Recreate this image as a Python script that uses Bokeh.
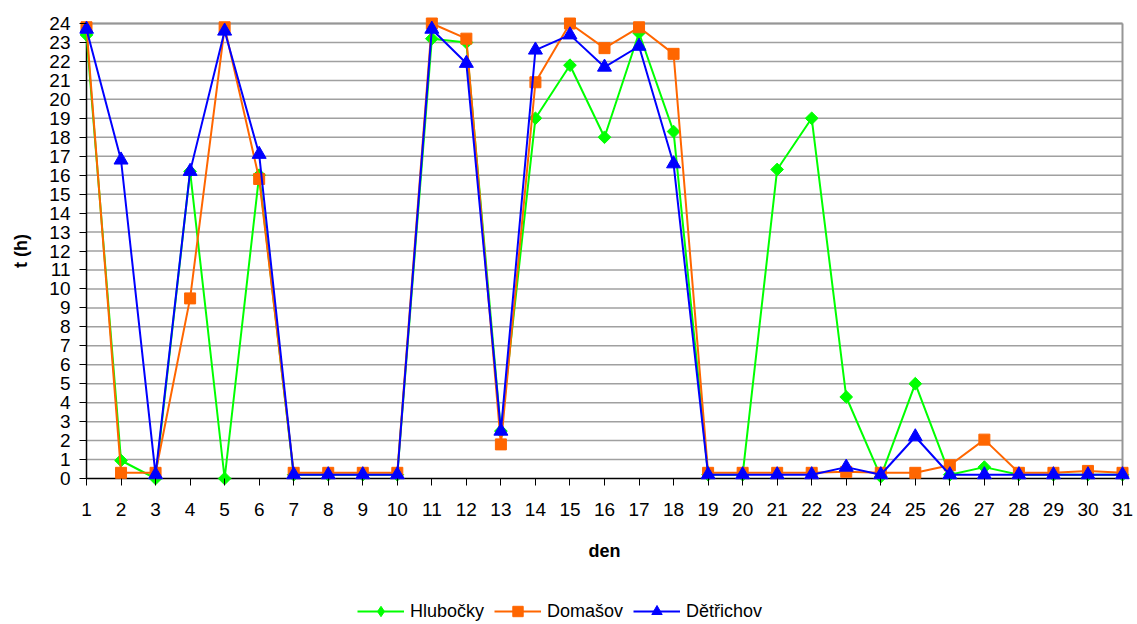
import math
from bokeh.plotting import figure
from bokeh.layouts import column
from bokeh.models import Range1d, FixedTicker, Legend, LegendItem
from bokeh.embed import file_html
from bokeh.resources import INLINE

# ---- data ----
days = list(range(1, 32))
hours = list(range(0, 25))

hlubocky = [23.4, 0.95, 0.0, 16.2, 0.0, 16.0, 0.2, 0.2, 0.2, 0.2,
            23.2, 23.0, 2.5, 19.0, 21.8, 18.0, 23.5, 18.3, 0.2, 0.2,
            16.3, 19.0, 4.3, 0.1, 5.0, 0.2, 0.6, 0.2, 0.2, 0.2, 0.2]
domasov = [23.8, 0.3, 0.3, 9.5, 23.8, 15.8, 0.3, 0.3, 0.3, 0.3,
           24.0, 23.2, 1.8, 20.9, 24.0, 22.7, 23.8, 22.4, 0.3, 0.3,
           0.3, 0.3, 0.35, 0.3, 0.3, 0.7, 2.05, 0.3, 0.3, 0.4, 0.3]
detrichov = [23.7, 16.8, 0.2, 16.2, 23.6, 17.1, 0.2, 0.2, 0.2, 0.2,
             23.7, 21.9, 2.5, 22.6, 23.4, 21.7, 22.8, 16.6, 0.2, 0.2,
             0.2, 0.2, 0.6, 0.2, 2.2, 0.2, 0.2, 0.2, 0.2, 0.2, 0.2]

names = ["Hlubočky", "Domašov", "Dětřichov"]
colors = ["#00FF00", "#FF6600", "#0000FF"]
markers = ["diamond", "square", "triangle"]

FONT = "Liberation Sans"

# ---- layout geometry (pixels) ----
PX_DAY = 1036 / 30.0
PX_HOUR = 455 / 24.0
PAD = 7

x_range = Range1d(1 - PAD / PX_DAY, 31 + PAD / PX_DAY)
y_range = Range1d(0 - PAD / PX_HOUR, 24 + PAD / PX_HOUR)

p = figure(width=1137, height=596, output_backend="svg", toolbar_location=None,
           x_range=x_range, y_range=y_range,
           min_border_left=79, min_border_right=8, min_border_top=16,
           min_border_bottom=111)
p.outline_line_color = None
p.background_fill_color = "white"
p.border_fill_color = "white"
p.xgrid.visible = False
p.ygrid.visible = False

# grid lines between the axes
p.segment(x0=[days[0]] * 24, y0=hours[1:], x1=[days[-1]] * 24, y1=hours[1:],
          line_color="#a0a0a0", line_width=1.5)
# top and right border
p.segment(x0=[days[0], days[-1]], y0=[hours[-1], hours[0]],
          x1=[days[-1], days[-1]], y1=[hours[-1], hours[-1]],
          line_color="#969696", line_width=2)
# axis lines
p.segment(x0=[days[0], days[0]], y0=[hours[0], hours[0]],
          x1=[days[0], days[-1]], y1=[hours[-1], hours[0]],
          line_color="black", line_width=1.5)

# axes
p.xaxis.ticker = FixedTicker(ticks=days)
p.yaxis.ticker = FixedTicker(ticks=hours)
for ax in (p.xaxis[0], p.yaxis[0]):
    ax.axis_line_color = None
    ax.major_tick_in = PAD
    ax.major_tick_out = 0
    ax.major_tick_line_color = "black"
    ax.major_tick_line_width = 1
    ax.minor_tick_line_color = None
    ax.major_label_text_font = FONT
    ax.major_label_text_font_size = "19px"
    ax.major_label_text_color = "black"
    ax.axis_label_text_font = FONT
    ax.axis_label_text_font_size = "18px"
    ax.axis_label_text_font_style = "bold"
    ax.axis_label_text_color = "black"

p.xaxis.axis_label = "den"
p.xaxis.major_label_standoff = 17
p.xaxis.axis_label_standoff = 22
p.yaxis.axis_label = "t (h)"
p.yaxis.major_label_standoff = 9
p.yaxis.axis_label_standoff = 15

series = [hlubocky, domasov, detrichov]
for i, (vals, col) in enumerate(zip(series, colors)):
    p.line(days, vals, line_color=col, line_width=2)
    if i == 0:
        p.scatter(days, vals, marker="square", angle=math.pi / 4, size=9,
                  fill_color=col, line_color=col)
    elif i == 1:
        p.scatter(days, vals, marker="square", size=11,
                  fill_color=col, line_color=col)
    else:
        p.scatter(days, vals, marker="triangle", size=14,
                  fill_color=col, line_color=col)

# ---- legend strip (separate figure below the chart) ----
lg = figure(width=1137, height=28, output_backend="svg", toolbar_location=None,
            x_range=Range1d(0, 1), y_range=Range1d(0, 1),
            x_axis_type=None, y_axis_type=None,
            min_border_left=0, min_border_right=0, min_border_top=0,
            min_border_bottom=0)
lg.outline_line_color = None
lg.xgrid.visible = False
lg.ygrid.visible = False

items = []
for name, col, mk in zip(names, colors, markers):
    ln = lg.line(x=[float("nan")], y=[float("nan")], line_color=col, line_width=2)
    sc = lg.scatter(x=[float("nan")], y=[float("nan")], marker=mk, size=12,
                    fill_color=col, line_color=col)
    items.append(LegendItem(label=name, renderers=[ln, sc]))

legend = Legend(items=items, orientation="horizontal", location=(278, 0),
                glyph_width=47, glyph_height=26, label_standoff=6, spacing=10,
                padding=0, margin=0, border_line_color=None,
                background_fill_alpha=0,
                label_text_font=FONT, label_text_font_size="18px",
                label_text_color="black")
lg.add_layout(legend)

layout = column(p, lg, spacing=0)
open("out.html", "w").write(file_html(layout, INLINE))
